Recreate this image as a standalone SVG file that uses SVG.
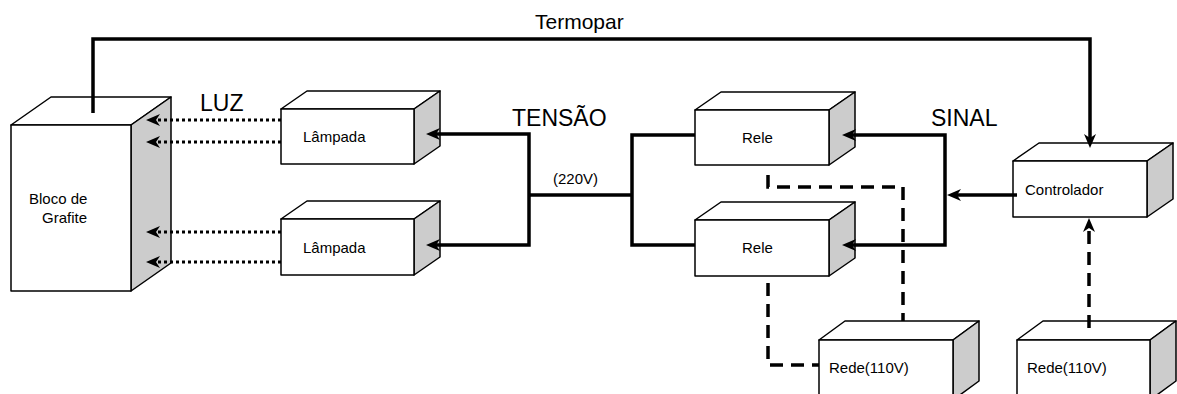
<svg xmlns="http://www.w3.org/2000/svg" width="1177" height="394" viewBox="0 0 1177 394">
<style>
.face{fill:#ffffff;stroke:#000;stroke-width:1.5;stroke-linejoin:round}
.side{fill:#cccccc;stroke:#000;stroke-width:1.5;stroke-linejoin:round}
.lbl{font-family:"Liberation Sans",Arial,sans-serif;font-size:15px;fill:#000}
.big{font-family:"Liberation Sans",Arial,sans-serif;font-size:23px;fill:#000}
.solid{fill:none;stroke:#000;stroke-width:3.5;stroke-linejoin:miter}
.dot{fill:none;stroke:#000;stroke-width:3;stroke-dasharray:3 3}
.dash{fill:none;stroke:#000;stroke-width:3.5;stroke-dasharray:13 8}
</style>
<defs>
<marker id="ah" markerUnits="userSpaceOnUse" viewBox="0 0 14 12" markerWidth="14" markerHeight="12" refX="8" refY="6" orient="auto">
<path d="M0,0 L14,6 L0,12 L4,6 Z" fill="#000"/>
</marker>
</defs>
<rect width="1177" height="394" fill="#fff"/>
<g id="bloco">
<polygon class="face" points="11,125 51,97 171,97 131,125"/>
<polygon class="side" points="131,125 171,97 171,263 131,291"/>
<rect class="face" x="11" y="125" width="120" height="166"/>
<text class="lbl" x="29" y="204">Bloco de</text>
<text class="lbl" x="42" y="223">Grafite</text>
</g>
<g id="lampada1">
<polygon class="face" points="281,109 307,91 440,91 414,109"/>
<polygon class="side" points="414,109 440,91 440,146 414,164"/>
<rect class="face" x="281" y="109" width="133" height="55"/>
<text class="lbl" x="303" y="142">Lâmpada</text>
</g>
<g id="lampada2">
<polygon class="face" points="281,219 307,201 440,201 414,219"/>
<polygon class="side" points="414,219 440,201 440,257 414,275"/>
<rect class="face" x="281" y="219" width="133" height="56"/>
<text class="lbl" x="303" y="253">Lâmpada</text>
</g>
<g id="rele1">
<polygon class="face" points="695,110 721,92 855,92 829,110"/>
<polygon class="side" points="829,110 855,92 855,147 829,165"/>
<rect class="face" x="695" y="110" width="134" height="55"/>
<text class="lbl" x="742" y="143">Rele</text>
</g>
<g id="rele2">
<polygon class="face" points="695,220 721,202 855,202 829,220"/>
<polygon class="side" points="829,220 855,202 855,258 829,276"/>
<rect class="face" x="695" y="220" width="134" height="56"/>
<text class="lbl" x="742" y="253">Rele</text>
</g>
<g id="controlador">
<polygon class="face" points="1013,161 1039,143 1173,143 1147,161"/>
<polygon class="side" points="1147,161 1173,143 1173,199 1147,217"/>
<rect class="face" x="1013" y="161" width="134" height="56"/>
<text class="lbl" x="1025" y="195">Controlador</text>
</g>
<g id="rede1">
<polygon class="face" points="819,340 845,321 979,321 953,340"/>
<polygon class="side" points="953,340 979,321 979,381 953,400"/>
<rect class="face" x="819" y="340" width="134" height="60"/>
<text class="lbl" x="829" y="373">Rede(110V)</text>
</g>
<g id="rede2">
<polygon class="face" points="1017,340 1043,321 1176,321 1150,340"/>
<polygon class="side" points="1150,340 1176,321 1176,381 1150,400"/>
<rect class="face" x="1017" y="340" width="133" height="60"/>
<text class="lbl" x="1027" y="373">Rede(110V)</text>
</g>
<g id="connectors">
<polyline class="solid" points="93,113 93,39 1090,39 1090,142" marker-end="url(#ah)"/>
<line class="dot" x1="281" y1="120" x2="152" y2="120" marker-end="url(#ah)"/>
<line class="dot" x1="281" y1="142" x2="152" y2="142" marker-end="url(#ah)"/>
<line class="dot" x1="281" y1="232" x2="152" y2="232" marker-end="url(#ah)"/>
<line class="dot" x1="281" y1="262" x2="152" y2="262" marker-end="url(#ah)"/>
<polyline class="solid" points="529,195 529,134 432,134" marker-end="url(#ah)"/>
<polyline class="solid" points="529,195 529,245 432,245" marker-end="url(#ah)"/>
<line class="solid" x1="529" y1="195" x2="632" y2="195"/>
<polyline class="solid" points="695,135 632,135 632,245 695,245"/>
<polyline class="solid" points="945,195 945,135 848,135" marker-end="url(#ah)"/>
<polyline class="solid" points="945,195 945,245 848,245" marker-end="url(#ah)"/>
<line class="solid" x1="1017" y1="195" x2="953" y2="195" marker-end="url(#ah)"/>
<line class="dash" x1="1089" y1="328" x2="1089" y2="224" marker-end="url(#ah)"/>
<polyline class="dash" points="768,175 768,187 903,187 903,321"/>
<polyline class="dash" points="768,283 768,365 819,365"/>
</g>
<g id="labels">
<text class="big" x="535" y="29" style="font-size:21px">Termopar</text>
<text class="big" x="200" y="111">LUZ</text>
<text class="big" x="512" y="126">TENSÃO</text>
<text class="big" x="931" y="126">SINAL</text>
<text class="lbl" x="553" y="184">(220V)</text>
</g>
</svg>
